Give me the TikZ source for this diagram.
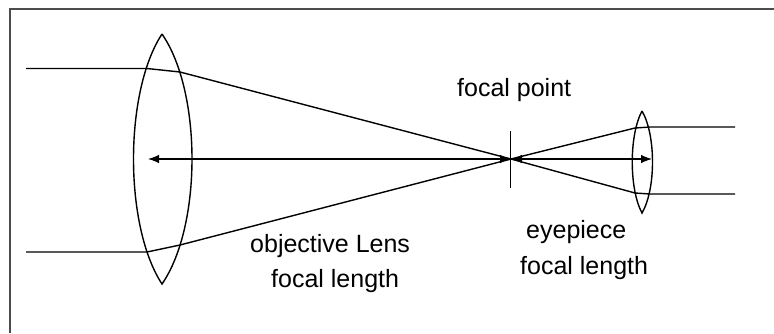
\documentclass[tikz,border=0pt]{standalone}
\usepackage{fontspec}
\setmainfont{Liberation Sans}
\usetikzlibrary{arrows.meta}
\tikzset{
  optic/.style={line width=1.4pt,black},
  tick/.style={line width=1.1pt,black},
  dim/.style={line width=1.1pt,black,{Latex[length=11pt,width=8.5pt]}-{Latex[length=11pt,width=8.5pt]}},
  lbl/.style={font=\fontsize{25}{28}\selectfont,text=black,inner sep=0pt,anchor=base west}
}
\begin{document}
\begin{tikzpicture}[x=1pt,y=-1pt]
\useasboundingbox (0,0) rectangle (774,333);
\fill[white] (0,0) rectangle (774,333);
\draw[line width=1.1pt,black!70] (10,333) -- (10,9) -- (774,9);
% big lens
\coordinate (bt) at (162,34);
\coordinate (bb) at (162,284);
\draw[optic] (bt) .. controls (124,92) and (124,226) .. (bb) .. controls (202,226) and (202,92) .. (bt);
% small lens
\coordinate (st) at (642,111);
\coordinate (sb) at (642,213);
\draw[optic] (st) .. controls (629,135) and (629,189) .. (sb) .. controls (656,189) and (656,135) .. (st);
% focal
\coordinate (f) at (511,159);
\coordinate (ft) at (510.6,131);
\coordinate (fb) at (510.6,188);
\draw[tick] (ft) -- (fb);
% rays
\coordinate (a1) at (26,68.5);
\coordinate (a2) at (147,68.5);
\coordinate (a3) at (180,72);
\coordinate (b1) at (26,252);
\coordinate (b2) at (147,252);
\coordinate (b3) at (180,245);
\coordinate (c1) at (735,127);
\coordinate (c2) at (650,127);
\coordinate (c3) at (635,128);
\coordinate (d1) at (735,194);
\coordinate (d2) at (650,194);
\coordinate (d3) at (635,193);
\draw[optic] (a1) -- (a2) -- (a3) -- (f) -- (b3) -- (b2) -- (b1);
\draw[optic] (c1) -- (c2) -- (c3) -- (f) -- (d3) -- (d2) -- (d1);
% dimension arrows
\coordinate (la) at (148,159);
\coordinate (ra) at (652,159);
\draw[dim] (la) -- (f);
\draw[dim] (f) -- (ra);
% labels
\node[lbl] (t1) at (457,96) {focal point};
\node[lbl] (t2) at (250,252) {objective Lens};
\node[lbl] (t3) at (271,287) {focal length};
\node[lbl] (t4) at (526,238) {eyepiece};
\node[lbl] (t5) at (520,274) {focal length};
\end{tikzpicture}
\end{document}
